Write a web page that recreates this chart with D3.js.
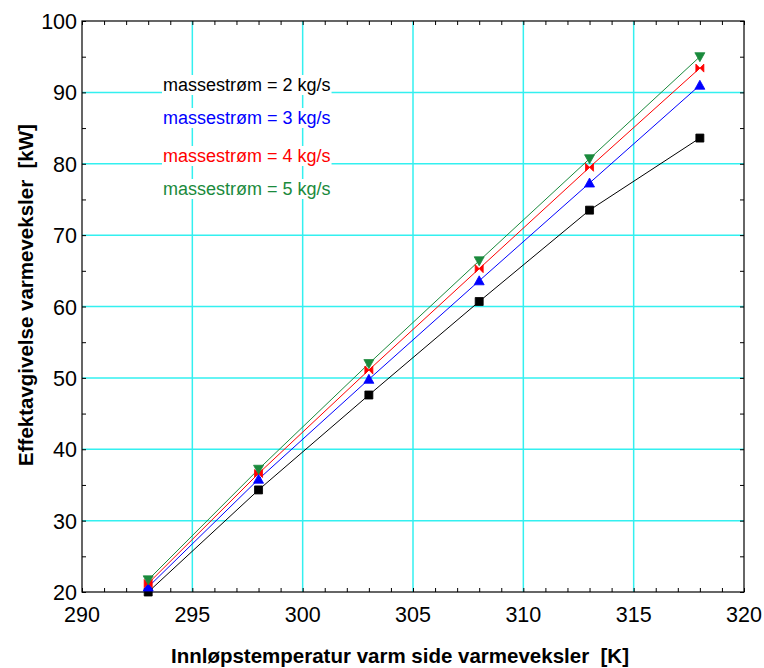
<!DOCTYPE html>
<html>
<head>
<meta charset="utf-8">
<script src="https://cdn.jsdelivr.net/npm/d3@7"></script>
<style>
  body { margin: 0; background: #fff; }
  svg { display: block; font-family: Arial, "Liberation Sans", sans-serif; }
</style>
</head>
<body>
<div id="chart"></div>
<script>
// data
const temps = [293, 298, 303, 308, 313, 318];
const flow2 = [20.0, 34.3, 47.6, 60.7, 73.5, 83.6];
const flow3 = [20.7, 35.8, 49.8, 63.6, 77.3, 91.0];
const flow4 = [21.2, 36.6, 51.1, 65.3, 79.5, 93.4];
const flow5 = [21.7, 37.2, 52.0, 66.4, 80.7, 95.0];
const seriesNames = ["massestrøm = 2 kg/s", "massestrøm = 3 kg/s", "massestrøm = 4 kg/s", "massestrøm = 5 kg/s"];
const xTicks = [290, 295, 300, 305, 310, 315, 320];
const yTicks = [20, 30, 40, 50, 60, 70, 80, 90, 100];

const W = 764, H = 668;
const m = { left: 82, right: 20, top: 21, bottom: 76 };

const series = [
    { name: seriesNames[0], values: flow2, color: "#000000", marker: "square" },
    { name: seriesNames[1], values: flow3, color: "#0000ff", marker: "up" },
    { name: seriesNames[2], values: flow4, color: "#ff0000", marker: "bowtie" },
    { name: seriesNames[3], values: flow5, color: "#1a8a3c", marker: "down" }
];

const svg = d3.select("#chart").append("svg")
    .attr("width", W)
    .attr("height", H);

const x = d3.scaleLinear().domain([290, 320]).range([m.left, W - m.right]);
const y = d3.scaleLinear().domain([20, 100]).range([H - m.bottom, m.top]);

// gridlines
const grid = svg.append("g").attr("stroke", "#33f0f0").attr("stroke-width", 1.5);
xTicks.slice(1, -1).forEach(t => {
    grid.append("line")
        .attr("x1", x(t)).attr("x2", x(t))
        .attr("y1", y(20)).attr("y2", y(100));
});
yTicks.slice(1, -1).forEach(t => {
    grid.append("line")
        .attr("x1", x(290)).attr("x2", x(320))
        .attr("y1", y(t)).attr("y2", y(t));
});

// legend text with white background (covers gridlines)
const legend = svg.append("g");
const legendY = [91, 124, 162, 195];
series.forEach((s, i) => {
    const g = legend.append("g");
    const t = g.append("text")
        .attr("x", 163)
        .attr("y", legendY[i])
        .attr("font-size", 18)
        .attr("fill", s.color)
        .text(s.name);
    const bb = t.node().getBBox();
    g.insert("rect", "text")
        .attr("x", bb.x - 1).attr("y", bb.y)
        .attr("width", bb.width + 2).attr("height", bb.height)
        .attr("fill", "#fff");
});

// frame
svg.append("rect")
    .attr("x", x(290)).attr("y", y(100))
    .attr("width", x(320) - x(290)).attr("height", y(20) - y(100))
    .attr("fill", "none").attr("stroke", "#000").attr("stroke-width", 1.2);

// axes: inward ticks
const xMinor = d3.range(290, 321, 1);
const yMinor = d3.range(20, 101, 5);
svg.append("g")
    .attr("transform", `translate(0,${y(20)})`)
    .call(d3.axisBottom(x).tickValues(xMinor).tickSize(-4).tickFormat(""))
    .call(g => g.select(".domain").remove());
svg.append("g")
    .attr("transform", `translate(0,${y(100)})`)
    .call(d3.axisTop(x).tickValues(xMinor).tickSize(-4).tickFormat(""))
    .call(g => g.select(".domain").remove());
svg.append("g")
    .attr("transform", `translate(${x(290)},0)`)
    .call(d3.axisLeft(y).tickValues(yMinor).tickSize(-4).tickFormat(""))
    .call(g => g.select(".domain").remove());
svg.append("g")
    .attr("transform", `translate(${x(320)},0)`)
    .call(d3.axisRight(y).tickValues(yMinor).tickSize(-4).tickFormat(""))
    .call(g => g.select(".domain").remove());

// tick labels
svg.append("g").selectAll("text")
    .data(xTicks)
    .join("text")
    .attr("x", d => x(d))
    .attr("y", y(20) + 30)
    .attr("text-anchor", "middle")
    .attr("font-size", 21.5)
    .text(d => d);
svg.append("g").selectAll("text")
    .data(yTicks)
    .join("text")
    .attr("x", x(290) - 5)
    .attr("y", d => y(d) + 8)
    .attr("text-anchor", "end")
    .attr("font-size", 21.5)
    .text(d => d);

// axis titles
svg.append("text")
    .attr("x", 400)
    .attr("y", 663)
    .attr("text-anchor", "middle")
    .attr("font-size", 20.5)
    .attr("font-weight", "bold")
    .attr("xml:space", "preserve")
    .text("Innløpstemperatur varm side varmeveksler  [K]");
svg.append("text")
    .attr("transform", `translate(33,295) rotate(-90)`)
    .attr("text-anchor", "middle")
    .attr("font-size", 20.5)
    .attr("font-weight", "bold")
    .attr("xml:space", "preserve")
    .text("Effektavgivelse varmeveksler  [kW]");

// lines
const line = d3.line().x((d, i) => x(temps[i])).y(d => y(d));
const plot = svg.append("g");
series.forEach(s => {
    plot.append("path")
        .attr("d", line(s.values))
        .attr("fill", "none")
        .attr("stroke", s.color)
        .attr("stroke-width", 1);
});

// markers
const r = 4;
const markerPath = {
    square: `M${-r},${-r}H${r}V${r}H${-r}Z`,
    up: `M0,${-r - 1}L${r + 1},${r}H${-r - 1}Z`,
    down: `M0,${r + 1}L${r + 1},${-r}H${-r - 1}Z`,
    bowtie: `M${-r},${-r}L${r},${r}V${-r}L${-r},${r}Z`
};
series.forEach(s => {
    plot.append("g").selectAll("path")
        .data(s.values)
        .join("path")
        .attr("transform", (d, i) => `translate(${x(temps[i])},${y(d)})`)
        .attr("d", markerPath[s.marker])
        .attr("fill", s.color)
        .attr("stroke", s.color)
        .attr("stroke-width", 0.8);
});
</script>
</body>
</html>
